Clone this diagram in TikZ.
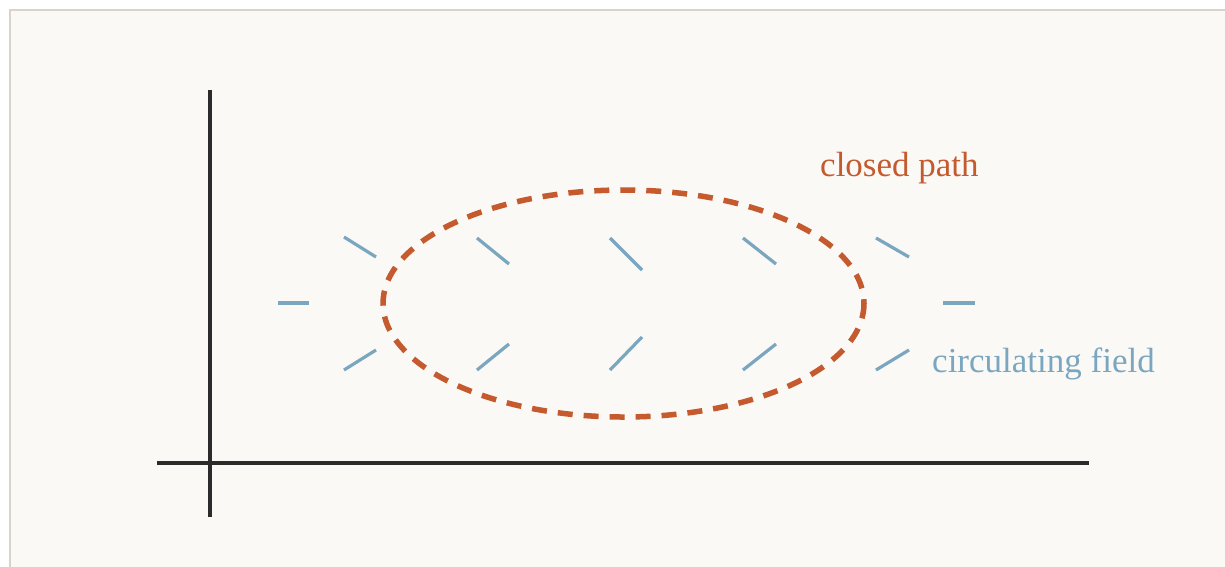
\documentclass[tikz,border=0pt]{standalone}
\usepackage{fontspec}
\setmainfont{Liberation Serif}
\definecolor{bgc}{HTML}{FAF9F6}
\definecolor{framec}{HTML}{D9D3CA}
\definecolor{axisc}{HTML}{2B2B2B}
\definecolor{pathc}{HTML}{C45A2E}
\definecolor{fieldc}{HTML}{7BA6BF}
\begin{document}
\begin{tikzpicture}[x=1pt,y=-1pt,
  axis/.style={draw=axisc,line width=3.5pt},
  loop/.style={draw=pathc,line width=5.5pt,dash pattern=on 15pt off 11pt},
  tick/.style={draw=fieldc,line width=3.2pt},
  lbl/.style={anchor=base west,inner sep=0pt,font=\fontsize{35}{42}\selectfont}]
\useasboundingbox (0,0) rectangle (1225,566);
\fill[white] (0,0) rectangle (1225,566);
\filldraw[fill=bgc,draw=framec,line width=2pt] (9.5,9.5) rectangle (1240,590);
% axes
\coordinate (ytop) at (210,90);
\coordinate (ybot) at (210,517);
\coordinate (xl) at (157,463);
\coordinate (xr) at (1089,463);
\draw[axis] (ytop) -- (ybot);
\draw[axis] (xl) -- (xr);
% closed path
\coordinate (c) at (623.5,303.5);
\draw[loop] (c) ellipse [x radius=240.5, y radius=113.5];
% field ticks
\draw[tick] (278,303) -- (309,303);
\draw[tick] (344,237) -- (376,257);
\draw[tick] (344,370) -- (376,350);
\draw[tick] (477,238) -- (509,264);
\draw[tick] (477,370) -- (509,344);
\draw[tick] (610,238) -- (642,270);
\draw[tick] (610,370) -- (642,337);
\draw[tick] (743,238) -- (776,264);
\draw[tick] (743,370) -- (776,344);
\draw[tick] (876,238) -- (909,257);
\draw[tick] (876,370) -- (909,350);
\draw[tick] (943,303) -- (975,303);
% labels
\node[lbl,text=pathc] (closed) at (820,176) {closed path};
\node[lbl,text=fieldc] (field) at (932,372.5) {circulating field};
\end{tikzpicture}
\end{document}
